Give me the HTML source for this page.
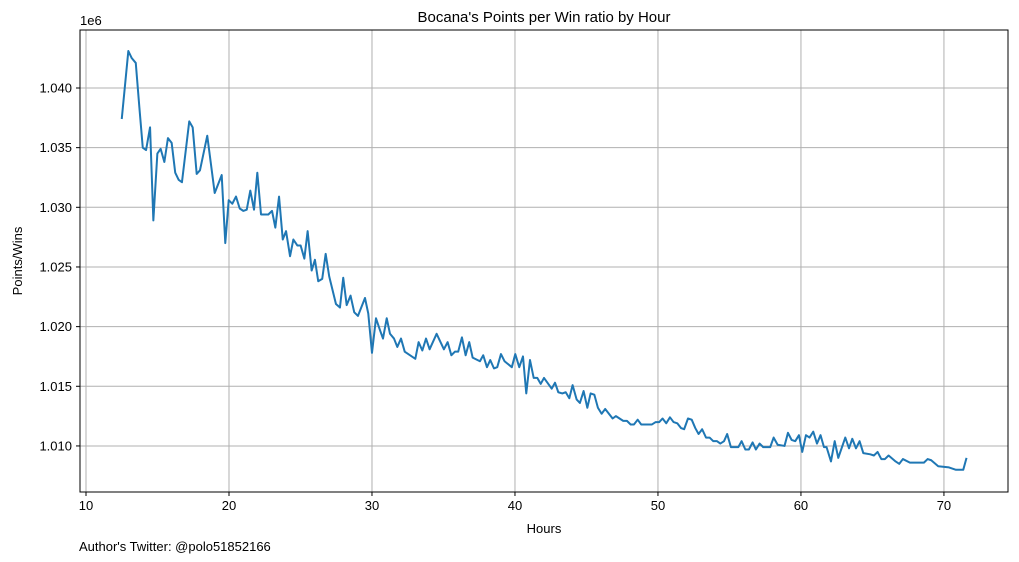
<!DOCTYPE html>
<html><head><meta charset="utf-8"><style>
html,body{margin:0;padding:0;background:#fff;}
svg{display:block;font-family:"Liberation Sans","DejaVu Sans",sans-serif;}
</style></head><body>
<svg id="chart" width="1019" height="562" xmlns="http://www.w3.org/2000/svg">
<text x="544" y="22" text-anchor="middle" font-size="15" fill="#000">Bocana's Points per Win ratio by Hour</text>
<text x="80" y="25" font-size="13" fill="#000">1e6</text>
<g id="grid"></g>
<g id="ticks"></g>
<path id="line" fill="none" stroke="#1f77b4" stroke-width="2" stroke-linejoin="round"/>
<rect x="80" y="30" width="928" height="462" fill="none" stroke="#000" stroke-width="1"/>
<text x="544" y="533" text-anchor="middle" font-size="13" fill="#000">Hours</text>
<text transform="translate(22,261) rotate(-90)" text-anchor="middle" font-size="13" fill="#000">Points/Wins</text>
<text x="79" y="551" font-size="13" fill="#000">Author's Twitter: @polo51852166</text>
</svg>
<script>
const hours = [12.50,12.96,13.20,13.48,13.73,13.97,14.20,14.48,14.71,14.99,15.22,15.48,15.73,15.99,16.24,16.48,16.71,17.22,17.46,17.74,17.97,18.48,19.00,19.49,19.74,19.98,20.23,20.49,20.75,21.00,21.24,21.49,21.75,21.98,22.24,22.75,23.01,23.24,23.50,23.76,23.99,24.27,24.50,24.78,25.01,25.27,25.50,25.78,26.01,26.24,26.52,26.76,27.01,27.48,27.76,27.99,28.23,28.50,28.76,29.02,29.51,29.74,30.00,30.28,30.56,30.77,31.03,31.26,31.54,31.77,32.03,32.29,33.03,33.26,33.52,33.78,34.03,34.52,35.03,35.29,35.55,35.80,36.03,36.29,36.55,36.80,37.04,37.55,37.78,38.04,38.27,38.53,38.76,39.02,39.27,39.78,40.02,40.30,40.56,40.79,41.05,41.31,41.56,41.80,42.03,42.57,42.80,43.03,43.31,43.55,43.80,44.03,44.31,44.54,44.80,45.06,45.29,45.55,45.80,46.06,46.31,46.83,47.06,47.57,47.83,48.09,48.32,48.58,48.83,49.58,49.84,50.09,50.32,50.58,50.84,51.09,51.35,51.61,51.83,52.10,52.36,52.61,52.84,53.09,53.36,53.61,53.87,54.13,54.36,54.62,54.84,55.10,55.62,55.85,56.11,56.36,56.62,56.85,57.11,57.36,57.85,58.09,58.37,58.85,59.09,59.35,59.60,59.86,60.09,60.35,60.60,60.86,61.12,61.37,61.61,61.79,62.10,62.36,62.61,63.10,63.36,63.59,63.85,64.10,64.36,64.85,65.10,65.36,65.62,65.87,66.13,66.62,66.87,67.13,67.62,68.60,68.86,69.11,69.60,70.35,70.84,71.35,71.58];
const pointsPerWin = [1037400,1043100,1042500,1042100,1038400,1035000,1034800,1036700,1028900,1034500,1034900,1033800,1035800,1035400,1032900,1032300,1032100,1037200,1036700,1032800,1033100,1036000,1031200,1032700,1027000,1030600,1030300,1030900,1029900,1029700,1029800,1031400,1029800,1032900,1029400,1029400,1029700,1028300,1030900,1027300,1028000,1025900,1027300,1026800,1026800,1025700,1028000,1024700,1025600,1023800,1024000,1026100,1024200,1021900,1021600,1024100,1021800,1022600,1021200,1020900,1022400,1021100,1017800,1020700,1019700,1019000,1020700,1019400,1019000,1018300,1019000,1017900,1017300,1018700,1018000,1019000,1018100,1019400,1018100,1018700,1017600,1017900,1017900,1019100,1017600,1018700,1017400,1017100,1017600,1016600,1017200,1016500,1016600,1017700,1017100,1016600,1017700,1016600,1017500,1014400,1017200,1015700,1015700,1015200,1015700,1014800,1015300,1014500,1014400,1014500,1014000,1015100,1013900,1013600,1014600,1013200,1014400,1014300,1013200,1012700,1013100,1012300,1012500,1012100,1012100,1011800,1011800,1012200,1011800,1011800,1012000,1012000,1012300,1011900,1012400,1012000,1011900,1011500,1011400,1012300,1012200,1011500,1011000,1011400,1010700,1010700,1010400,1010400,1010200,1010400,1011000,1009900,1009900,1010400,1009700,1009700,1010300,1009700,1010200,1009900,1009900,1010700,1010100,1010000,1011100,1010500,1010400,1010900,1009500,1010900,1010700,1011200,1010200,1010900,1009900,1009900,1008700,1010400,1009000,1010700,1009800,1010600,1009800,1010400,1009400,1009300,1009200,1009500,1008900,1008900,1009200,1008700,1008500,1008900,1008600,1008600,1008900,1008800,1008300,1008200,1008000,1008000,1009000];
const xTicks = [10,20,30,40,50,60,70];
const yTicks = [1010000,1015000,1020000,1025000,1030000,1035000,1040000];
const yTickLabels = ["1.010","1.015","1.020","1.025","1.030","1.035","1.040"];

const L=80,R=1008,T=30,B=492;
const xMin=9.58,xMax=74.48,yMin=1006140,yMax=1044860;
function sx(v){return L+(v-xMin)/(xMax-xMin)*(R-L);}
function sy(v){return B-(v-yMin)/(yMax-yMin)*(B-T);}
const NS="http://www.w3.org/2000/svg";
const grid=document.getElementById('grid'),ticks=document.getElementById('ticks');
function mk(tag,attrs,parent){const e=document.createElementNS(NS,tag);for(const k in attrs)e.setAttribute(k,attrs[k]);parent.appendChild(e);return e;}
xTicks.forEach(function(t){
  const x=sx(t);
  const g=mk('line',{x1:x,x2:x,y1:T,y2:B,stroke:'#b0b0b0','stroke-width':1},grid);
  
  
  const tk=mk('line',{x1:x,x2:x,y1:B,y2:B+4,stroke:'#000','stroke-width':1},ticks);
  
  
  const lb=mk('text',{x:x,y:B+18,'text-anchor':'middle','font-size':13,fill:'#000'},ticks);
  lb.textContent=String(t);
  
  
});
yTicks.forEach(function(t,i){
  const y=sy(t);
  const g=mk('line',{x1:L,x2:R,y1:y,y2:y,stroke:'#b0b0b0','stroke-width':1},grid);
  
  
  const tk=mk('line',{x1:L-4,x2:L,y1:y,y2:y,stroke:'#000','stroke-width':1},ticks);
  
  
  const lb=mk('text',{x:L-8,y:y+4.5,'text-anchor':'end','font-size':13,fill:'#000'},ticks);
  lb.textContent=yTickLabels[i];
  
  
});
let d='';
hours.forEach(function(h,i){d+=(i?'L':'M')+sx(h).toFixed(2)+','+sy(pointsPerWin[i]).toFixed(2);});
document.getElementById('line').setAttribute('d',d);
</script>
</body></html>
